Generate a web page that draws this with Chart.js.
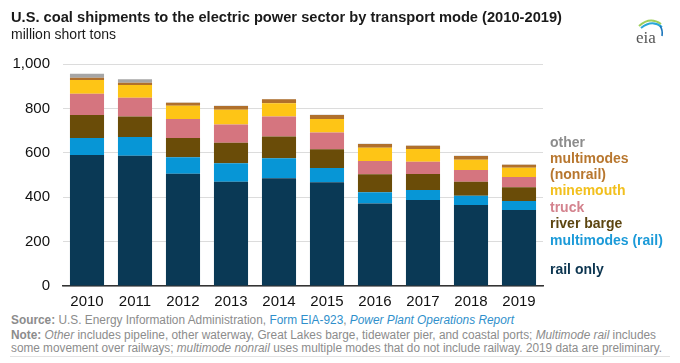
<!DOCTYPE html>
<html>
<head>
<meta charset="utf-8">
<script src="https://cdn.jsdelivr.net/npm/chart.js@4.4.1/dist/chart.umd.min.js"></script>
<style>
  html, body { margin: 0; padding: 0; background: #fff; }
  body { width: 680px; height: 363px; position: relative; overflow: hidden; font-family: "Liberation Sans", Arial, sans-serif; }
  #wrap { position: absolute; left: 0; top: 0; width: 680px; height: 312px; }
  .t { position: absolute; white-space: nowrap; }
  #title { left: 11px; top: 8px; font-size: 15px; font-weight: bold; color: #1a1a1a; transform-origin: left top; }
  #sub { left: 11px; top: 26px; font-size: 14px; color: #1a1a1a; transform-origin: left top; }
  .lg { position: absolute; left: 550px; font-size: 14px; font-weight: bold; line-height: 16px; white-space: nowrap; }
  .ft { position: absolute; left: 11px; font-size: 12px; color: #8c8c8c; white-space: nowrap; transform-origin: left top; line-height: 14px; }
  .ft b { font-weight: bold; }
  .ft .bl { color: #2f8fcb; }
  #rule { position: absolute; left: 10px; top: 356px; width: 660px; height: 1px; background: #e2e2e2; }
</style>
</head>
<body>
<div id="wrap"><canvas id="c"></canvas></div>
<div class="t" id="title">U.S. coal shipments to the electric power sector by transport mode (2010-2019)</div>
<div class="t" id="sub">million short tons</div>
<svg style="position:absolute;left:630px;top:14px" width="40" height="32" viewBox="0 0 40 32">
  <path d="M9 12 Q20 2 31 10" stroke="#9fcf5a" stroke-width="2" fill="none"/>
  <path d="M11 14 Q22 5 32 13" stroke="#2aa7d8" stroke-width="2" fill="none"/>
  <path d="M30 12 Q33 16 32 22" stroke="#1b75bb" stroke-width="1.6" fill="none"/>
  <text x="6" y="29" font-family="Liberation Serif, DejaVu Serif, serif" font-size="17" fill="#555">eia</text>
</svg>

<div id="legend"></div>

<div class="ft" id="f1" style="top:313px"><b>Source:</b> U.S. Energy Information Administration, <span class="bl">Form EIA-923</span>, <span class="bl"><i>Power Plant Operations Report</i></span></div>
<div class="ft" id="f2" style="top:328px"><b>Note:</b> <i>Other</i> includes pipeline, other waterway, Great Lakes barge, tidewater pier, and coastal ports; <i>Multimode rail</i> includes</div>
<div class="ft" id="f3" style="top:341px">some movement over railways; <i>multimode nonrail</i> uses multiple modes that do not include railway. 2019 data are preliminary.</div>
<div id="rule"></div>

<script>
const years = ["2010","2011","2012","2013","2014","2015","2016","2017","2018","2019"];
const railOnly        = [590, 587, 506, 470, 485, 467, 372, 387, 365, 342];
const multimodesRail  = [ 77,  84,  74,  83,  90,  65,  50,  45,  42,  41];
const riverBarge      = [103,  92,  87,  92,  98,  84,  81,  73,  63,  62];
const truck           = [ 96,  85,  85,  83,  90,  75,  60,  55,  53,  46];
const minemouth       = [ 62,  57,  60,  66,  60,  61,  60,  57,  46,  42];
const multimodesNonrail = [10, 11,  14,  17,  18,  18,  17,  15,  17,  13];
const other           = [ 18,  15,   1,   1,   1,   1,   1,   1,   1,   1];
const yTicks = [0, 200, 400, 600, 800, 1000];

const legendItems = [
  { text: "other", color: "#8c8c8c", y: 141.5 },
  { text: "multimodes", color: "#b8772f", y: 157.7 },
  { text: "(nonrail)", color: "#b8772f", y: 174 },
  { text: "minemouth", color: "#f2c01e", y: 190.3 },
  { text: "truck", color: "#d4838e", y: 206.7 },
  { text: "river barge", color: "#5c4510", y: 223.3 },
  { text: "multimodes (rail)", color: "#1b9ad8", y: 239.5 },
  { text: "rail only", color: "#0c3550", y: 269 }
];
const lg = document.getElementById('legend');
legendItems.forEach(it => {
  const d = document.createElement('div');
  d.className = 'lg';
  d.style.top = (it.y - 8) + 'px';
  d.style.color = it.color;
  d.textContent = it.text;
  lg.appendChild(d);
});

const series = [
  { label: "rail only", data: railOnly, color: "#0a3955" },
  { label: "multimodes (rail)", data: multimodesRail, color: "#0796d6" },
  { label: "river barge", data: riverBarge, color: "#6a4c08" },
  { label: "truck", data: truck, color: "#d5757f" },
  { label: "minemouth", data: minemouth, color: "#fec516" },
  { label: "multimodes (nonrail)", data: multimodesNonrail, color: "#b0702c" },
  { label: "other", data: other, color: "#a6a6a6" }
];

new Chart(document.getElementById('c'), {
  type: 'bar',
  data: {
    labels: years,
    datasets: series.map(s => ({
      label: s.label, data: s.data, backgroundColor: s.color,
      borderWidth: 0, barPercentage: 0.71, categoryPercentage: 1.0
    }))
  },
  options: {
    responsive: true,
    maintainAspectRatio: false,
    animation: false,
    layout: { padding: { left: 0, right: 137, top: 64, bottom: 0 } },
    plugins: { legend: { display: false }, tooltip: { enabled: false } },
    scales: {
      x: {
        stacked: true,
        grid: { display: false, drawTicks: false },
        border: { display: true, color: "#333", width: 1.5 },
        ticks: { color: "#111", font: { family: "Liberation Sans, Arial", size: 15 }, padding: 7, maxRotation: 0 },
        afterFit: s => { s.height = 26; }
      },
      y: {
        stacked: true,
        min: 0, max: 1000,
        afterBuildTicks: s => { s.ticks = yTicks.map(v => ({ value: v })); },
        grid: { color: "#dcdcdc", lineWidth: 1, drawTicks: false },
        border: { display: false },
        ticks: {
          color: "#111", font: { family: "Liberation Sans, Arial", size: 15 }, padding: 13,
          callback: v => v.toLocaleString('en-US')
        },
        afterFit: s => { s.width = 63; }
      }
    }
  }
});

function fit(id, w) {
  const el = document.getElementById(id);
  const cw = el.getBoundingClientRect().width;
  el.style.transform = 'scaleX(' + (w / cw) + ')';
}
fit('title', 551);
fit('f1', 503);
fit('f2', 645);
fit('f3', 651);
</script>
</body>
</html>
